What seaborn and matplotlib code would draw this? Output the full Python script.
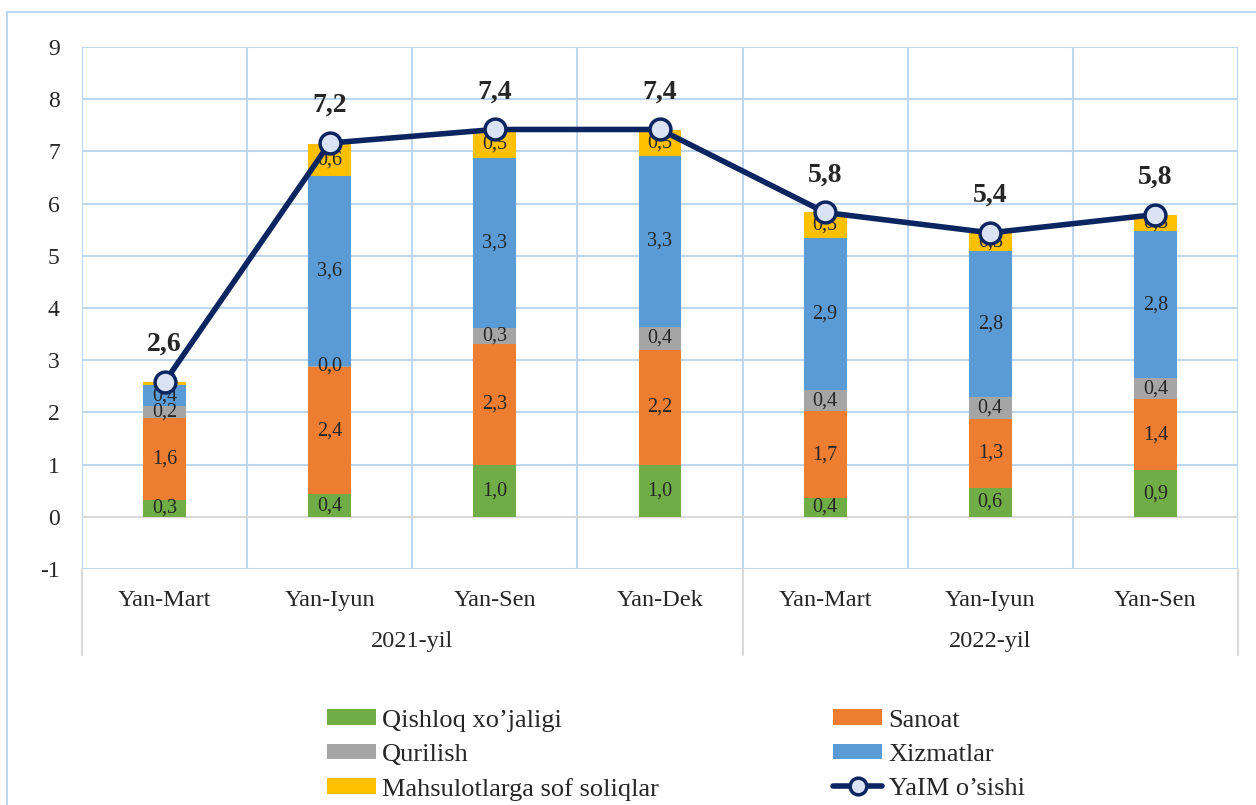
import numpy as np
import pandas as pd
import matplotlib
matplotlib.use('Agg')
import matplotlib.pyplot as plt
import matplotlib.transforms as mtransforms
from matplotlib.patches import Patch, Rectangle
from matplotlib.lines import Line2D
import seaborn as sns

# ─── Data ─────────────────────────────────────────────────────────────────────

periods = ['Yan-Mart', 'Yan-Iyun', 'Yan-Sen', 'Yan-Dek',
           'Yan-Mart', 'Yan-Iyun', 'Yan-Sen']
years = ['2021-yil', '2021-yil', '2021-yil', '2021-yil',
         '2022-yil', '2022-yil', '2022-yil']

qishloq   = [0.33, 0.43, 1.00, 1.00, 0.36, 0.56, 0.89]
sanoat    = [1.56, 2.44, 2.31, 2.20, 1.66, 1.32, 1.36]
qurilish  = [0.23, 0.02, 0.31, 0.44, 0.40, 0.42, 0.40]
xizmatlar = [0.40, 3.63, 3.26, 3.27, 2.93, 2.80, 2.83]
soliqlar  = [0.06, 0.62, 0.54, 0.50, 0.48, 0.34, 0.30]
yaim      = [2.58, 7.16, 7.42, 7.42, 5.83, 5.44, 5.79]

series_names = ['Qishloq xo’jaligi', 'Sanoat', 'Qurilish',
                'Xizmatlar', 'Mahsulotlarga sof soliqlar']
colors = ['#70AD47', '#ED7D31', '#A5A5A5', '#5B9BD5', '#FFC000']
line_name = 'YaIM o’sishi'
line_color = '#0B2561'

# ─── Setup ────────────────────────────────────────────────────────────────────

sns.set_style('white')
plt.rcParams['font.family'] = ['Liberation Serif', 'DejaVu Serif']

keys = [f'{y} {p}' for p, y in zip(periods, years)]
df = pd.DataFrame({'key': keys})
values = [qishloq, sanoat, qurilish, xizmatlar, soliqlar]
for name, vals in zip(series_names, values):
    df[name] = vals
cum = df[series_names].cumsum(axis=1)

fig = plt.figure(figsize=(12.56, 8.05), dpi=100)
ax = fig.add_axes([82 / 1256, 1 - 569 / 805, (1238 - 82) / 1256, 522 / 805])

# stacked bars: draw cumulative totals from top layer down
for name, col in reversed(list(zip(series_names, colors))):
    sns.barplot(x=df['key'], y=cum[name], color=col, width=0.26,
                saturation=1, order=keys, ax=ax, edgecolor='none', zorder=2)

# segment labels
for i in range(len(keys)):
    base = 0.0
    for name in series_names:
        v = df[name].iloc[i]
        if v >= 0.1 or name == 'Qurilish':
            ax.text(i, base + v / 2, f'{v:.1f}'.replace('.', ','),
                    ha='center', va='center', fontsize=14.5, zorder=5)
        base += v

# GDP growth line
sns.lineplot(x=np.arange(len(keys)), y=yaim, ax=ax, color=line_color,
             linewidth=4, marker='o', markersize=15,
             markerfacecolor='#DAE3F3', markeredgecolor=line_color,
             markeredgewidth=2.5, zorder=6)
for i, v in enumerate(yaim):
    ax.annotate(f'{v:.1f}'.replace('.', ','), (i, v), xytext=(0, 27),
                textcoords='offset points', ha='center', va='center',
                fontsize=20, fontweight='bold', zorder=7)

# ─── Axes styling ─────────────────────────────────────────────────────────────

ax.set_xlim(-0.5, len(keys) - 0.5)
ax.set_ylim(-1, 9)
ax.set_yticks(range(-1, 10))
ax.set_yticklabels([str(t) for t in range(-1, 10)], fontsize=17)
ax.tick_params(axis='y', length=0, pad=16)
ax.set_xticks([])
ax.set_xlabel('')
ax.set_ylabel('')
for s in ax.spines.values():
    s.set_visible(False)

grid_col = '#BDD7EE'
for t in range(-1, 10):
    if t != 0:
        ax.axhline(t, color=grid_col, lw=1.5, zorder=0)
ax.axhline(0, color='#D9D9D9', lw=1.5, zorder=1)
for xb in np.arange(-0.5, len(keys), 1.0):
    ax.axvline(xb, color=grid_col, lw=1.5, zorder=0)

# category and year labels under the plot
trans = mtransforms.blended_transform_factory(ax.transData, ax.transAxes)
for i, p in enumerate(periods):
    ax.text(i, -0.06, p, transform=trans, ha='center', va='center',
            fontsize=17.5)
year_groups = {}
for i, y in enumerate(years):
    year_groups.setdefault(y, []).append(i)
for y, idx in year_groups.items():
    ax.text(np.mean(idx), -0.138, y, transform=trans, ha='center',
            va='center', fontsize=17.5)
for xb in [-0.5, 3.5, len(keys) - 0.5]:
    ax.add_line(Line2D([xb, xb], [0, -0.165], transform=trans,
                       color='#D9D9D9', lw=1.5, clip_on=False))

# ─── Legend ───────────────────────────────────────────────────────────────────

handles = [Patch(facecolor=c, edgecolor='none') for c in colors]
handles.append(Line2D([], [], color=line_color, lw=4, marker='o',
                      markersize=12, markerfacecolor='#DAE3F3',
                      markeredgecolor=line_color, markeredgewidth=2.5))
labels = series_names + [line_name]
order = [0, 2, 4, 1, 3, 5]
fig.legend([handles[k] for k in order], [labels[k] for k in order],
           ncol=2, loc='center', bbox_to_anchor=(0.538, 0.062),
           frameon=False, fontsize=19, handlelength=1.85, handleheight=0.55,
           handletextpad=0.25, columnspacing=6.6, labelspacing=0.45)

# outer border
fig.patches.append(Rectangle((7 / 1256, -0.05), 1.2, 1 - 12 / 805 + 0.05,
                             transform=fig.transFigure, fill=False,
                             edgecolor=grid_col, lw=1.5))

fig.savefig('out.png', dpi=100)
